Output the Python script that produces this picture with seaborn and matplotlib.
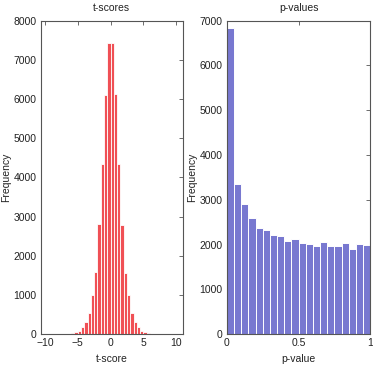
import pandas as pd
import matplotlib
matplotlib.use("Agg")
import matplotlib.pyplot as plt
import seaborn as sns

# ======================
# Data
# ======================

# t-score histogram: bins of width 0.5 from -6.5 to 6.5
t_edges = [round(-6.5 + 0.5 * i, 2) for i in range(27)]
t_counts = [10, 25, 50, 85, 170, 300, 540, 1010, 1580, 2810, 4340, 6110, 7430,
            7420, 6140, 4350, 2790, 1560, 1010, 530, 300, 170, 90, 50, 25, 10]

# p-value histogram: 20 bins over [0, 1]
p_edges = [round(0.05 * i, 2) for i in range(21)]
p_counts = [6830, 3350, 2910, 2590, 2370, 2330, 2220, 2195, 2080, 2130,
            2030, 2010, 1970, 2050, 1970, 1970, 2030, 1905, 2010, 1995]

t_df = pd.DataFrame({"t": [(a + b) / 2 for a, b in zip(t_edges[:-1], t_edges[1:])],
                     "n": t_counts})
p_df = pd.DataFrame({"p": [(a + b) / 2 for a, b in zip(p_edges[:-1], p_edges[1:])],
                     "n": p_counts})

# ======================
# Style
# ======================

sns.set_theme(style="white")
plt.rcParams["font.family"] = ["Liberation Sans", "DejaVu Sans"]
plt.rcParams["font.size"] = 7.5
plt.rcParams["xtick.direction"] = "in"
plt.rcParams["ytick.direction"] = "in"

fig = plt.figure(figsize=(3.73, 3.70), dpi=100)
ax1 = fig.add_axes([0.109, 0.097, 0.382, 0.847])
ax2 = fig.add_axes([0.608, 0.097, 0.385, 0.847])

# ======================
# t-scores
# ======================

sns.histplot(data=t_df, x="t", weights="n", bins=t_edges, ax=ax1,
             color="#f05055", alpha=1, edgecolor="white", linewidth=0.6)
ax1.set_xlim(-10.65, 11.05)
ax1.set_ylim(0, 8000)
ax1.set_xticks([-10, -5, 0, 5, 10])
ax1.set_yticks(range(0, 8001, 1000))
ax1.set_title("t-scores", fontsize=7.5, pad=7)
ax1.set_xlabel("t-score", fontsize=7.5)
ax1.set_ylabel("Frequency", fontsize=7.5)
ax1.yaxis.set_label_coords(-0.205, 0.5)

# ======================
# p-values
# ======================

sns.histplot(data=p_df, x="p", weights="n", bins=p_edges, ax=ax2,
             color="#7878d0", alpha=1, edgecolor="white", linewidth=0.7)
ax2.set_xlim(0, 1)
ax2.set_ylim(0, 7000)
ax2.set_xticks([0, 0.5, 1])
ax2.set_xticklabels(["0", "0.5", "1"])
ax2.set_yticks(range(0, 7001, 1000))
ax2.set_title("p-values", fontsize=7.5, pad=7)
ax2.set_xlabel("p-value", fontsize=7.5)
ax2.set_ylabel("Frequency", fontsize=7.5)
ax2.yaxis.set_label_coords(-0.21, 0.5)

for ax in (ax1, ax2):
    for s in ax.spines.values():
        s.set_color("#555555")
        s.set_linewidth(0.8)
    ax.tick_params(which="both", top=True, right=True, length=3, width=0.6,
                   color="#555555", labelsize=7.5, labelcolor="#222222", pad=3)
    ax.xaxis.label.set_color("#222222")
    ax.yaxis.label.set_color("#222222")
    ax.title.set_color("#222222")

fig.savefig("out.png", dpi=100)
